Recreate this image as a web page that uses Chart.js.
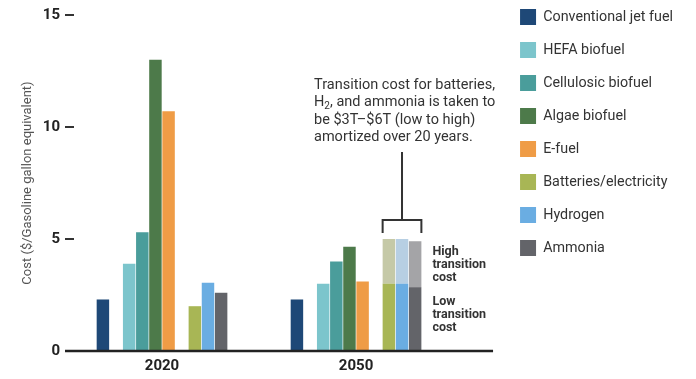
<!DOCTYPE html>
<html>
<head>
<meta charset="utf-8">
<script src="https://cdn.jsdelivr.net/npm/chart.js@4.4.1/dist/chart.umd.min.js"></script>
<style>
  html, body { margin: 0; padding: 0; background: #fff; }
  #wrap { width: 696px; height: 379px; position: relative; }
</style>
</head>
<body>
<div id="wrap"><canvas id="costChart"></canvas></div>
<script>
// Categories and tick labels
const years = ['2020', '2050'];
const yTicks = [0, 5, 10, 15];

// Cost per gasoline gallon equivalent, one value per year
const conventional = [2.3, 2.3];
const hefa = [3.9, 3.0];
const cellulosic = [5.3, 4.0];
const algae = [13.0, 4.65];
const efuel = [10.7, 3.1];
const batteries = [2.0, 3.0];   // 2050: low transition cost
const hydrogen = [3.05, 3.0];
const ammonia = [2.6, 2.85];

// 2050 cost with the high transition cost (no range in 2020)
const batteriesHigh = [null, 5.0];
const hydrogenHigh = [null, 5.0];
const ammoniaHigh = [null, 4.9];

const fuelNames = ['Conventional jet fuel', 'HEFA biofuel', 'Cellulosic biofuel', 'Algae biofuel',
  'E-fuel', 'Batteries/electricity', 'Hydrogen', 'Ammonia'];
const fuelColors = ['#1e4877', '#7cc5cc', '#4a9d9b', '#4d7a4a', '#ef9c46', '#a8b655', '#6aade2', '#636469'];
const highColors = ['#c5c9a7', '#b7cfe3', '#a4a4a7'];

const noteLines = ['Transition cost for batteries,', 'H|2|, and ammonia is taken to',
  'be $3T\u2013$6T (low to high)', 'amortized over 20 years.'];
const highLabel = ['High', 'transition', 'cost'];
const lowLabel = ['Low', 'transition', 'cost'];

Chart.defaults.font.family = 'Roboto, "Liberation Sans", sans-serif';

function bar(label, data, color, stack) {
  return { label, data, backgroundColor: color, stack, borderWidth: 0, inLegend: true };
}
function spacer(stack) {
  return { label: '', data: years.map(() => null), stack, inLegend: false };
}
function range(low, high, color, stack) {
  return {
    label: '', stack, backgroundColor: color, borderWidth: 0, inLegend: false,
    data: low.map((v, i) => high[i] == null ? null : [v, high[i]])
  };
}

const datasets = [
  bar(fuelNames[0], conventional, fuelColors[0], 's0'),
  spacer('s1'),
  bar(fuelNames[1], hefa, fuelColors[1], 's2'),
  bar(fuelNames[2], cellulosic, fuelColors[2], 's3'),
  bar(fuelNames[3], algae, fuelColors[3], 's4'),
  bar(fuelNames[4], efuel, fuelColors[4], 's5'),
  spacer('s6'),
  bar(fuelNames[5], batteries, fuelColors[5], 's7'),
  bar(fuelNames[6], hydrogen, fuelColors[6], 's8'),
  bar(fuelNames[7], ammonia, fuelColors[7], 's9'),
  range(batteries, batteriesHigh, highColors[0], 's7'),
  range(hydrogen, hydrogenHigh, highColors[1], 's8'),
  range(ammonia, ammoniaHigh, highColors[2], 's9')
];
const rangeSets = [10, 11, 12];

// Baseline, bracket and explanatory notes for the transition-cost range
const notes = {
  id: 'notes',
  afterDraw(chart) {
    const { ctx, chartArea, scales: { y } } = chart;
    const y0 = y.getPixelForValue(0);
    ctx.save();
    ctx.strokeStyle = '#222';
    ctx.lineWidth = 2.5;
    ctx.beginPath();
    ctx.moveTo(chartArea.left, y0);
    ctx.lineTo(chart.legend.left - 10, y0);
    ctx.stroke();

    const els = rangeSets.map(i => chart.getDatasetMeta(i).data[1]);
    const left = els[0].x - els[0].width / 2;
    const right = els[2].x + els[2].width / 2;
    const top = Math.min(...els.map(e => e.y));
    const mid = (left + right) / 2;
    const barY = top - 19, endY = top - 6, stemTop = top - 87;

    ctx.strokeStyle = '#333';
    ctx.lineWidth = 2;
    ctx.beginPath();
    ctx.moveTo(left, endY); ctx.lineTo(left, barY); ctx.lineTo(right, barY); ctx.lineTo(right, endY);
    ctx.moveTo(mid, barY); ctx.lineTo(mid, stemTop);
    ctx.stroke();

    // note text, with a subscript segment between bars
    ctx.fillStyle = '#333';
    ctx.textBaseline = 'middle';
    ctx.textAlign = 'left';
    const tx = mid - 88;
    noteLines.forEach((line, i) => {
      const ly = stemTop - 67 + i * 17.5;
      let cx = tx;
      line.split('|').forEach((seg, k) => {
        if (k % 2 === 1) {
          ctx.font = '10px Roboto';
          ctx.fillText(seg, cx, ly + 4);
        } else {
          ctx.font = '14.5px Roboto';
          ctx.fillText(seg, cx, ly);
        }
        cx += ctx.measureText(seg).width;
      });
    });

    ctx.font = 'bold 12.5px Roboto';
    ctx.fillStyle = '#333';
    const lx = right + 11;
    const hiMid = y.getPixelForValue((hydrogen[1] + hydrogenHigh[1]) / 2) + 3;
    const loMid = y.getPixelForValue(hydrogen[1] / 2) - 3;
    highLabel.forEach((t, i) => ctx.fillText(t, lx, hiMid + (i - 1) * 13));
    lowLabel.forEach((t, i) => ctx.fillText(t, lx, loMid + (i - 1) * 13));
    ctx.restore();
  }
};

new Chart(document.getElementById('costChart'), {
  type: 'bar',
  data: { labels: years, datasets },
  plugins: [notes],
  options: {
    responsive: true,
    maintainAspectRatio: false,
    animation: false,
    categoryPercentage: 0.677,
    barPercentage: 0.95,
    layout: { padding: { top: -8, left: 0, right: 13, bottom: -2 } },
    plugins: {
      tooltip: { enabled: false },
      legend: {
        position: 'right',
        align: 'start',
        maxWidth: 400,
        labels: {
          boxWidth: 16,
          boxHeight: 16,
          padding: 17,
          color: '#333',
          font: { size: 14.3 },
          filter: (item, data) => data.datasets[item.datasetIndex].inLegend
        }
      }
    },
    scales: {
      x: {
        stacked: true,
        offset: true,
        grid: { display: false, drawTicks: false },
        border: { display: false },
        ticks: { color: '#222', padding: 6, font: { size: 15, weight: 'bold' } }
      },
      y: {
        stacked: false,
        min: 0,
        max: 15,
        afterBuildTicks: s => { s.ticks = yTicks.map(v => ({ value: v })); },
        afterFit: s => { s.width = 65; s.paddingTop = 15; s.paddingBottom = 0; },
        grid: { drawOnChartArea: false, drawTicks: true, tickLength: -9, color: '#333', lineWidth: 2 },
        border: { display: false },
        ticks: { color: '#222', padding: 14, font: { size: 15, weight: 'bold' } },
        title: {
          display: true,
          text: 'Cost ($/Gasoline gallon equivalent)',
          color: '#555',
          font: { size: 13 },
          padding: { top: 20, bottom: 0 }
        }
      },
      y2: {
        position: 'right',
        display: true,
        grid: { display: false, drawTicks: false },
        border: { display: false },
        ticks: { display: false },
        afterFit: s => { s.width = 50; }
      }
    }
  }
});
</script>
</body>
</html>
